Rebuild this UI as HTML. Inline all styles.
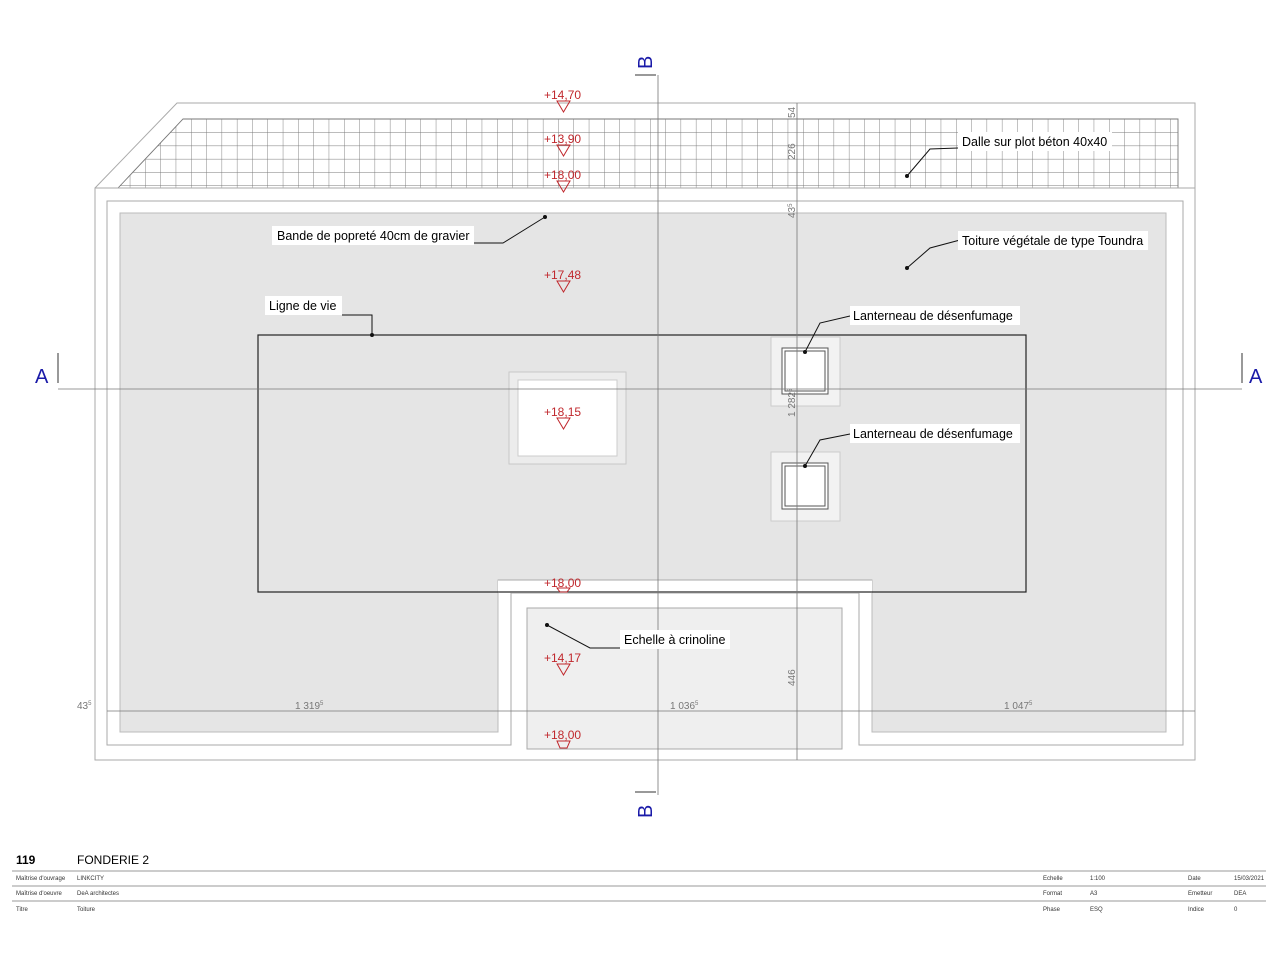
<!DOCTYPE html>
<html><head><meta charset="utf-8"><style>
html,body{margin:0;padding:0;background:#fff;width:1280px;height:960px;overflow:hidden}
svg{display:block;font-family:"Liberation Sans",sans-serif}
.r{fill:#c0282d;font-size:12px}
.l{font-size:12.5px;fill:#000}
.d{font-size:10px;fill:#777}
.s{font-size:6px;fill:#333}
</style></head><body>
<svg width="1280" height="960" viewBox="0 0 1280 960">
<defs>
<pattern id="g" patternUnits="userSpaceOnUse" x="191" y="119" width="15.3" height="13.3">
<path d="M0 0H15.3M0 0V13.3" stroke="#777" stroke-width="0.9" fill="none"/></pattern>
<clipPath id="gc"><polygon points="183,119 1178,119 1178,188 118,188"/></clipPath>
</defs>
<polyline points="95,188 177,103 1195,103 1195,188" fill="none" stroke="#aaa"/>
<polygon points="183,119 1178,119 1178,188 118,188" fill="#fff"/>
<rect x="100" y="100" width="1100" height="100" fill="url(#g)" clip-path="url(#gc)"/>
<polyline points="118,188 183,119 1178,119 1178,188" fill="none" stroke="#777" stroke-width="0.9"/>
<rect x="95" y="188" width="1100" height="572" fill="#fff" stroke="#aaa"/>
<polygon points="107,201 1183,201 1183,745 859,745 859,593 511,593 511,745 107,745" fill="none" stroke="#aaa"/>
<polygon points="120,213 1166,213 1166,732 872,732 872,580 498,580 498,732 120,732" fill="#e5e5e5" stroke="#bbb"/>
<rect x="498" y="580" width="374" height="13" fill="#fff"/>
<line x1="498" y1="580" x2="872" y2="580" stroke="#aaa"/>
<rect x="527" y="608" width="315" height="141" fill="#efefef" stroke="#aaa"/>
<rect x="258" y="335" width="768" height="257" fill="none" stroke="#222" stroke-width="1.2"/>
<rect x="509" y="372" width="117" height="92" fill="#ececec" stroke="#c8c8c8"/>
<rect x="518" y="380" width="99" height="76" fill="#fff" stroke="#ccc"/>
<g fill="#fff" stroke="#555">
<rect x="771" y="337" width="69" height="69" fill="#f2f2f2" stroke="#ccc"/>
<rect x="782" y="348" width="46" height="46"/>
<rect x="785" y="351" width="40" height="40"/>
<rect x="771" y="452" width="69" height="69" fill="#f2f2f2" stroke="#ccc"/>
<rect x="782" y="463" width="46" height="46"/>
<rect x="785" y="466" width="40" height="40"/>
</g>
<g stroke="#777" stroke-width="0.8">
<line x1="658" y1="75" x2="658" y2="795"/>
<line x1="58" y1="389" x2="1242" y2="389"/>
<line x1="797" y1="103" x2="797" y2="760"/>
<line x1="107" y1="711" x2="1195" y2="711"/>
</g>
<g stroke="#333" stroke-width="1">
<line x1="58" y1="353" x2="58" y2="383"/>
<line x1="1242" y1="353" x2="1242" y2="383"/>
<line x1="635" y1="75" x2="656" y2="75"/>
<line x1="635" y1="792" x2="656" y2="792"/>
</g>
<g fill="#1a1aa8" font-size="20">
<text x="35" y="383">A</text>
<text x="1249" y="383">A</text>
<text transform="translate(652,69) rotate(-90)">B</text>
<text transform="translate(652,818) rotate(-90)">B</text>
</g>
<text class="d" x="77" y="709">43<tspan font-size="6" dy="-4">5</tspan></text>
<text class="d" x="295" y="709">1 319<tspan font-size="6" dy="-4">5</tspan></text>
<text class="d" x="670" y="709">1 036<tspan font-size="6" dy="-4">5</tspan></text>
<text class="d" x="1004" y="709">1 047<tspan font-size="6" dy="-4">5</tspan></text>
<g class="d">
<text transform="translate(795,118) rotate(-90)">54</text>
<text transform="translate(795,160) rotate(-90)">226</text>
<text transform="translate(795,218) rotate(-90)">43<tspan font-size="6" dy="-3">5</tspan></text>
<text transform="translate(795,417) rotate(-90)">1 282<tspan font-size="6" dy="-3">5</tspan></text>
<text transform="translate(795,686) rotate(-90)">446</text>
</g>
<g stroke="#c0282d" fill="none" stroke-width="1">
<path d="M557,101 h13 l-6.5,11z"/>
<path d="M557,145 h13 l-6.5,11z"/>
<path d="M557,181 h13 l-6.5,11z"/>
<path d="M557,281 h13 l-6.5,11z"/>
<path d="M557,418 h13 l-6.5,11z"/>
<path d="M557,588 h13 l-3,4h-7z"/>
<path d="M557,664 h13 l-6.5,11z"/>
<path d="M557,741 h13 l-3,7h-7z"/>
</g>
<g class="r">
<text x="544" y="99">+14,70</text>
<text x="544" y="143">+13,90</text>
<text x="544" y="179">+18,00</text>
<text x="544" y="279">+17,48</text>
<text x="544" y="416">+18,15</text>
<text x="544" y="587">+18,00</text>
<text x="544" y="662">+14,17</text>
<text x="544" y="739">+18,00</text>
</g>
<g stroke="#111" fill="none" stroke-width="1">
<polyline points="958,148 930,149 907,176"/>
<polyline points="474,243 503,243 545,217"/>
<polyline points="960,240 930,248 907,268"/>
<polyline points="342,315 372,315 372,335"/>
<polyline points="850,316 820,323 805,352"/>
<polyline points="850,434 820,440 805,466"/>
<polyline points="620,648 590,648 547,625"/>
</g>
<g fill="#111">
<circle cx="907" cy="176" r="2"/><circle cx="545" cy="217" r="2"/><circle cx="907" cy="268" r="2"/>
<circle cx="372" cy="335" r="2"/><circle cx="805" cy="352" r="2"/><circle cx="805" cy="466" r="2"/><circle cx="547" cy="625" r="2"/>
</g>
<g fill="#fff">
<rect x="958" y="132" width="154" height="19"/>
<rect x="272" y="226" width="202" height="19"/>
<rect x="958" y="231" width="190" height="19"/>
<rect x="265" y="296" width="77" height="19"/>
<rect x="850" y="306" width="170" height="19"/>
<rect x="850" y="424" width="170" height="19"/>
<rect x="620" y="630" width="110" height="19"/>
</g>
<g class="l">
<text x="962" y="146">Dalle sur plot béton 40x40</text>
<text x="277" y="240">Bande de popreté 40cm de gravier</text>
<text x="962" y="245">Toiture végétale de type Toundra</text>
<text x="269" y="310">Ligne de vie</text>
<text x="853" y="320">Lanterneau de désenfumage</text>
<text x="853" y="438">Lanterneau de désenfumage</text>
<text x="624" y="644">Echelle à crinoline</text>
</g>
<text x="16" y="864" font-size="12" font-weight="bold">119</text>
<text x="77" y="864" font-size="12">FONDERIE 2</text>
<g stroke="#999" stroke-width="1">
<line x1="12" y1="871" x2="1266" y2="871"/>
<line x1="12" y1="886" x2="1266" y2="886"/>
<line x1="12" y1="901" x2="1266" y2="901"/>
</g>
<g class="s">
<text x="16" y="880">Maîtrise d'ouvrage</text><text x="77" y="880">LINKCITY</text>
<text x="16" y="895">Maîtrise d'oeuvre</text><text x="77" y="895">DeA architectes</text>
<text x="16" y="911">Titre</text><text x="77" y="911">Toiture</text>
<text x="1043" y="880">Echelle</text><text x="1090" y="880">1:100</text>
<text x="1043" y="895">Format</text><text x="1090" y="895">A3</text>
<text x="1043" y="911">Phase</text><text x="1090" y="911">ESQ</text>
<text x="1188" y="880">Date</text><text x="1234" y="880">15/03/2021</text>
<text x="1188" y="895">Emetteur</text><text x="1234" y="895">DEA</text>
<text x="1188" y="911">Indice</text><text x="1234" y="911">0</text>
</g>
</svg>
</body></html>
